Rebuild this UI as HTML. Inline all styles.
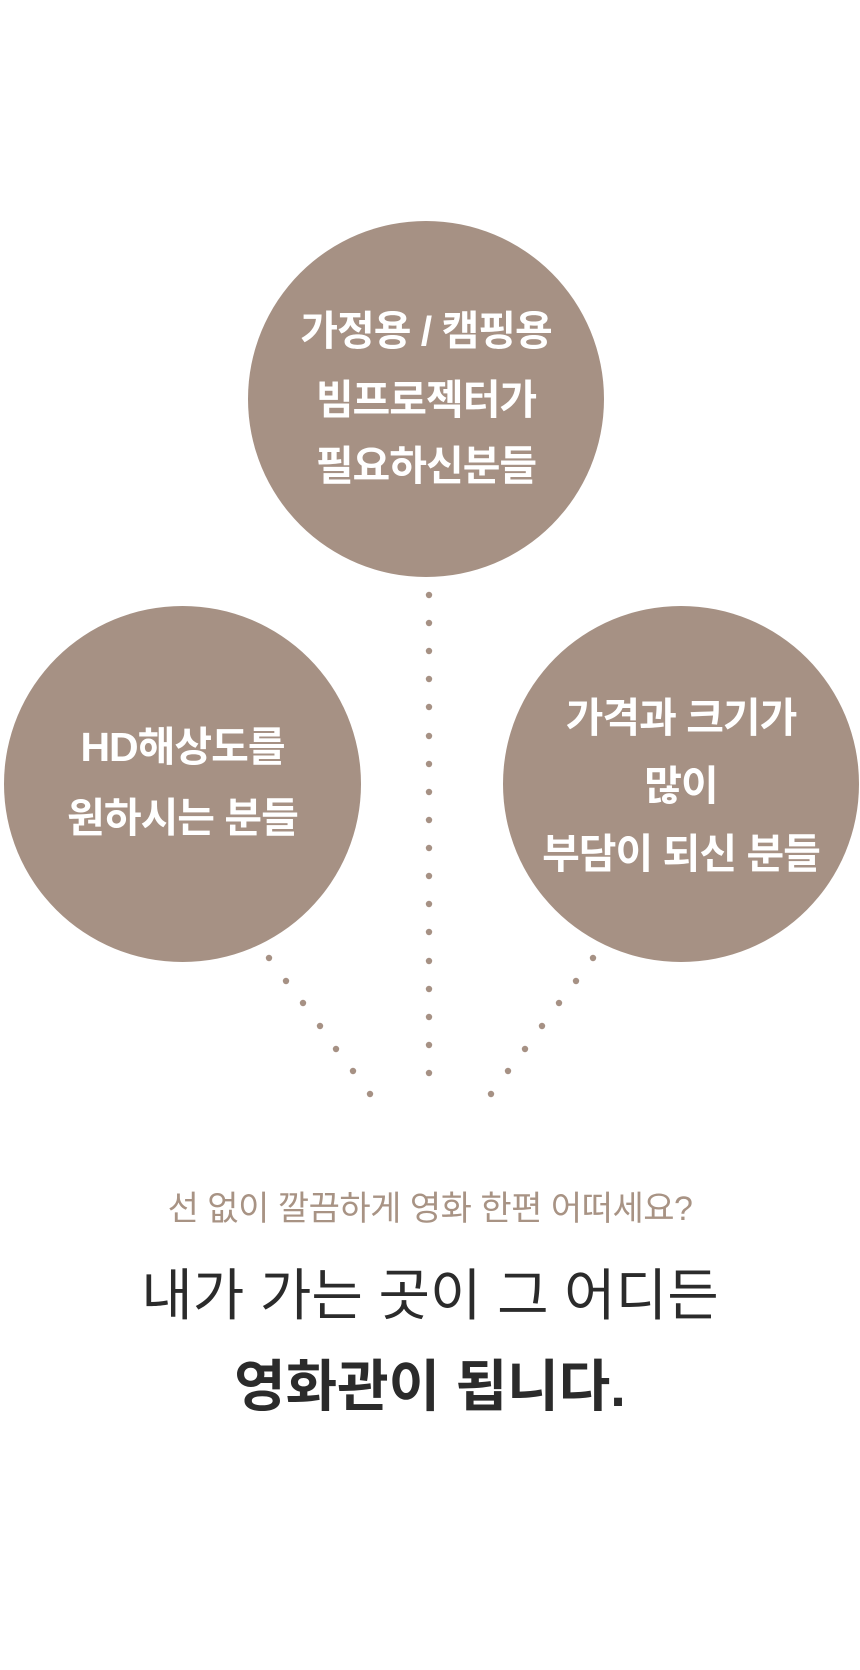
<!DOCTYPE html>
<html><head><meta charset="utf-8"><style>
html,body{margin:0;padding:0;background:#fff;}
body{width:860px;height:1670px;position:relative;overflow:hidden;font-family:"Liberation Sans","Noto Sans CJK KR",sans-serif;}
.c{position:absolute;border-radius:50%;background:#a69184;}
.t{position:absolute;left:0;width:100%;text-align:center;white-space:nowrap;}
.w{color:#fff;font-weight:bold;font-size:41px;line-height:42px;letter-spacing:-1px;}
</style></head><body>
<div class="c" style="left:248px;top:221px;width:356px;height:356px"></div>
<div class="c" style="left:4px;top:606px;width:357px;height:356px"></div>
<div class="c" style="left:503px;top:606px;width:356px;height:356px"></div>
<svg width="860" height="1670" style="position:absolute;left:0;top:0">
<g fill="#a69184">
<circle cx="429" cy="595" r="3.2"/><circle cx="429" cy="623" r="3.2"/><circle cx="429" cy="651" r="3.2"/><circle cx="429" cy="679" r="3.2"/><circle cx="429" cy="707" r="3.2"/><circle cx="429" cy="736" r="3.2"/><circle cx="429" cy="764" r="3.2"/><circle cx="429" cy="792" r="3.2"/><circle cx="429" cy="820" r="3.2"/><circle cx="429" cy="848" r="3.2"/><circle cx="429" cy="876" r="3.2"/><circle cx="429" cy="904" r="3.2"/><circle cx="429" cy="932" r="3.2"/><circle cx="429" cy="961" r="3.2"/><circle cx="429" cy="989" r="3.2"/><circle cx="429" cy="1017" r="3.2"/><circle cx="429" cy="1045" r="3.2"/><circle cx="429" cy="1073" r="3.2"/>
<circle cx="269" cy="958" r="3.2"/><circle cx="286" cy="981" r="3.2"/><circle cx="303" cy="1003" r="3.2"/><circle cx="320" cy="1026" r="3.2"/><circle cx="336" cy="1049" r="3.2"/><circle cx="353" cy="1071" r="3.2"/><circle cx="370" cy="1094" r="3.2"/>
<circle cx="593" cy="958" r="3.2"/><circle cx="576" cy="981" r="3.2"/><circle cx="559" cy="1003" r="3.2"/><circle cx="542" cy="1026" r="3.2"/><circle cx="525" cy="1049" r="3.2"/><circle cx="508" cy="1071" r="3.2"/><circle cx="491" cy="1094" r="3.2"/>
</g></svg>
<div class="t w" style="left:248px;width:356px;top:310px">가정용 / 캠핑용</div>
<div class="t w" style="left:248px;width:356px;top:379px">빔프로젝터가</div>
<div class="t w" style="left:248px;width:356px;top:445px">필요하신분들</div>
<div class="t w" style="left:4px;width:357px;top:726px">HD해상도를</div>
<div class="t w" style="left:4px;width:357px;top:797px">원하시는 분들</div>
<div class="t w" style="left:503px;width:356px;top:697px">가격과 크기가</div>
<div class="t w" style="left:503px;width:356px;top:765px">많이</div>
<div class="t w" style="left:503px;width:356px;top:833px">부담이 되신 분들</div>
<div class="t" style="top:1190px;font-size:34px;line-height:38px;color:#a89384;letter-spacing:-0.5px;">선 없이 깔끔하게 영화 한편 어떠세요?</div>
<div class="t" style="top:1264px;font-size:56px;line-height:64px;color:#2b2b2b;">내가 가는 곳이 그 어디든</div>
<div class="t" style="top:1355px;font-size:56px;line-height:64px;color:#2b2b2b;font-weight:bold;">영화관이 됩니다.</div>
</body></html>
